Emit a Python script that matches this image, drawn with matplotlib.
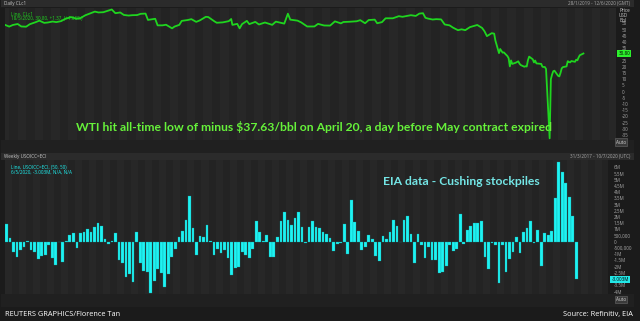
import matplotlib
matplotlib.use('Agg')
import matplotlib.pyplot as plt
import matplotlib.transforms as mtrans
import pandas as pd

# ---------------- data ----------------
wti_dates = [
    '2019-01-25', '2019-01-28', '2019-01-31', '2019-02-04', '2019-02-07', '2019-02-11', '2019-02-14',
    '2019-02-19', '2019-02-22', '2019-02-26', '2019-03-01', '2019-03-05', '2019-03-08', '2019-03-12',
    '2019-03-15', '2019-03-20', '2019-03-25', '2019-03-28', '2019-04-01', '2019-04-05', '2019-04-09',
    '2019-04-12', '2019-04-16', '2019-04-23', '2019-04-26', '2019-04-30', '2019-05-03', '2019-05-07',
    '2019-05-10', '2019-05-14', '2019-05-17', '2019-05-21', '2019-05-23', '2019-05-29', '2019-05-31',
    '2019-06-04', '2019-06-07', '2019-06-12', '2019-06-14', '2019-06-18', '2019-06-20', '2019-06-25',
    '2019-06-28', '2019-07-02', '2019-07-05', '2019-07-10', '2019-07-12', '2019-07-17', '2019-07-19',
    '2019-07-24', '2019-07-29', '2019-07-31', '2019-08-01', '2019-08-05', '2019-08-07', '2019-08-09',
    '2019-08-13', '2019-08-15', '2019-08-20', '2019-08-23', '2019-08-28', '2019-09-03', '2019-09-06',
    '2019-09-13', '2019-09-16', '2019-09-18', '2019-09-24', '2019-09-27', '2019-10-02', '2019-10-08',
    '2019-10-11', '2019-10-16', '2019-10-21', '2019-10-25', '2019-10-30', '2019-11-01', '2019-11-06',
    '2019-11-12', '2019-11-15', '2019-11-19', '2019-11-22', '2019-11-27', '2019-11-29', '2019-12-03',
    '2019-12-06', '2019-12-12', '2019-12-17', '2019-12-20', '2019-12-27', '2019-12-31', '2020-01-03',
    '2020-01-06', '2020-01-08', '2020-01-10', '2020-01-14', '2020-01-17', '2020-01-21', '2020-01-24',
    '2020-01-28', '2020-01-31', '2020-02-04', '2020-02-07', '2020-02-10', '2020-02-14', '2020-02-20',
    '2020-02-24', '2020-02-26', '2020-02-28', '2020-03-03', '2020-03-05', '2020-03-06', '2020-03-09',
    '2020-03-10', '2020-03-12', '2020-03-13', '2020-03-16', '2020-03-17', '2020-03-18', '2020-03-19',
    '2020-03-20', '2020-03-23', '2020-03-24', '2020-03-25', '2020-03-26', '2020-03-27', '2020-03-30',
    '2020-03-31', '2020-04-01', '2020-04-02', '2020-04-03', '2020-04-06', '2020-04-07', '2020-04-08',
    '2020-04-09', '2020-04-13', '2020-04-14', '2020-04-15', '2020-04-16', '2020-04-17', '2020-04-20',
    '2020-04-21', '2020-04-22', '2020-04-23', '2020-04-24', '2020-04-27', '2020-04-28', '2020-04-29',
    '2020-04-30', '2020-05-01', '2020-05-04', '2020-05-05', '2020-05-06', '2020-05-07', '2020-05-08',
    '2020-05-11', '2020-05-12', '2020-05-13', '2020-05-14', '2020-05-15', '2020-05-18']
wti_prices = [
    53.7, 52.5, 53.8, 54.6, 52.6, 52.4, 54.4,
    56.1, 57.3, 55.5, 55.8, 56.6, 56.1, 56.9,
    58.5, 60.2, 58.8, 59.3, 61.6, 63.1, 64.6,
    63.9, 64.1, 66.3, 63.3, 63.9, 61.9, 61.4,
    61.7, 61.8, 62.8, 63.0, 57.9, 58.8, 53.5,
    53.5, 54.0, 51.1, 52.5, 53.9, 57.1, 57.8,
    58.5, 56.3, 57.5, 60.4, 60.2, 56.8, 55.6,
    55.9, 56.9, 58.6, 53.9, 54.7, 51.1, 54.5,
    57.1, 54.5, 56.3, 54.2, 55.8, 53.9, 56.5,
    54.9, 62.9, 58.1, 57.3, 55.9, 52.6, 52.6,
    54.7, 53.4, 53.3, 56.7, 55.1, 56.2, 56.4,
    56.8, 57.7, 55.2, 57.8, 58.1, 55.2, 56.1,
    59.2, 59.2, 60.9, 60.4, 61.7, 61.1, 63.0,
    63.3, 59.6, 59.0, 58.2, 58.5, 58.3, 54.2,
    53.5, 51.6, 49.6, 50.3, 49.6, 52.1, 53.8,
    51.4, 48.7, 44.8, 47.2, 46.8, 41.3, 31.1,
    34.4, 31.5, 31.7, 28.7, 27.0, 20.4, 25.2,
    22.4, 23.4, 24.0, 24.5, 22.6, 21.5, 20.1,
    20.5, 20.3, 25.3, 28.3, 26.1, 23.6, 25.1,
    22.8, 22.4, 20.1, 19.9, 19.9, 18.3, -37.63,
    10.0, 13.8, 16.5, 16.9, 12.8, 12.3, 15.1,
    18.8, 19.8, 20.4, 24.6, 24.0, 23.6, 24.7,
    24.1, 25.8, 25.3, 27.6, 29.4, 30.8]

cushing_first_week = '2017-03-31'
cushing_change_m = [
    1.45, 0.3, -0.78, -1.18, -0.65, -0.38, 0.05, -0.65, -0.78, -1.4, -1.13, -1.05, -0.25, -1.26,
    -1.9, 0.02, -1.62, 0.05, 0.56, 0.7, -0.48, 0.7, 0.8, 1.02, 0.83, 1.18, 1.56, 1.29, 0.2, -0.19,
    0.1, 0.73, -1.45, -1.67, -2.85, -2.58, -3.25, 0.8, -1.72, -2.34, -2.4,
    -4.14, -3.15, -2.15, -2.47, -3.6, -2.6, -1.18, -0.56, 0.38, 0.91, 1.8, 3.68, 1.13, -1.08,
    0.46, 0.43, 1.4, 0.05, -1.08, -0.54, -0.91, -0.65, -1.26, -2.66, -2.12, -2.02, -0.78, -1.08,
    -1.32, -0.56, 1.67, 0.78, 0.1, 0.54, -1.24, -1.24, 0.43, 1.72, 2.42, 1.75, 1.34,
    1.9, 2.42, 1.18, -0.08, 1.18, 1.72, 1.16, 1.08, 0.83, 0.65, 0.35, -0.7, -0.16, -0.1,
    1.45, -0.97, 3.39, 1.64, 0.89, -0.65, -0.43, 0.54, 0.24, -1.1, -1.5, 0.46, 0.24, 0.83,
    1.8, 1.26, 0.03, 1.77, 2.1, 0.65, -1.67, 0.65, -0.24, -1.32, -0.43, -1.45, -1.45,
    -2.47, -2.45, -1.94, -0.24, -0.73, -0.59, 2.26, -0.16, 0.94, 1.29, 1.53, 1.56, 1.72, -1.18,
    -2.2, -0.05, -0.24, -3.28, -0.24, -2.39, -1.4, -0.78, 0.38, -0.91, 0.81, 1.08, 1.69, -0.1,
    0.97, -1.94, 0.75, 0.56, 0.89, 3.52, 6.4, 5.67, 4.76, 3.58, 2.07, -3.003]

wti_ticks = [55, 50, 45, 40, 35, 30, 25, 20, 15, 10, 5, 0, -5, -10, -15, -20, -25, -30, -35]
cush_ticks = [6, 5.5, 5, 4.5, 4, 3.5, 3, 2.5, 2, 1.5, 1, 0.5, 0, -0.5, -1, -1.5, -2, -2.5, -3.5, -4]
cush_tick_labels = ['6M', '5.5M', '5M', '4.5M', '4M', '3.5M', '3M', '2.5M', '2M', '1.5M', '1M',
                    '500,000', '0', '-500,000', '-1M', '-1.5M', '-2M', '-2.5M', '-3.5M', '-4M']

title_top = 'WTI hit all-time low of minus $37.63/bbl on April 20, a day before May contract expired'
title_bottom = 'EIA data - Cushing stockpiles'

# ---------------- styling ----------------
W, H = 640, 321
BG = '#1b1b1b'
PANEL = '#232323'
STRIPE = '#272727'
TXT = '#a8a8a8'
GREEN = '#1fd51f'
CYAN = '#1ef2f2'
SMALL = 3.3

plt.rcParams['font.family'] = ['Open Sans', 'DejaVu Sans']

fig = plt.figure(figsize=(6.4, 3.21), dpi=100)
fig.patch.set_facecolor(BG)


def rect(x0, y0, x1, y1):
    return [x0 / W, 1 - y1 / H, (x1 - x0) / W, (y1 - y0) / H]


def ft(x, y, s, **kw):
    return fig.text(x / W, 1 - y / H, s, **kw)


def bar_px(x0, y0, x1, y1, color):
    fig.patches.append(plt.Rectangle((x0 / W, 1 - y1 / H), (x1 - x0) / W, (y1 - y0) / H,
                                     transform=fig.transFigure, facecolor=color,
                                     edgecolor='none', zorder=0))

# header bars and frames
bar_px(1, 0, 634, 7, '#2b2b2b')
bar_px(1, 153, 634, 160, '#2b2b2b')
bar_px(1, 140, 634, 153, '#202020')
bar_px(1, 294, 634, 307, '#202020')
ft(4, 3.5, 'Daily CLc1', fontsize=SMALL, color='#c8c8c8', va='center', ha='left')
ft(630, 3.5, '28/1/2019 - 12/6/2020 (GMT)', fontsize=SMALL, color=TXT, va='center', ha='right')
ft(4, 156.5, 'Weekly USOICC=ECI', fontsize=SMALL, color='#c8c8c8', va='center', ha='left')
ft(630, 156.5, '31/3/2017 - 10/7/2020 (UTC)', fontsize=SMALL, color=TXT, va='center', ha='right')

# ---------------- top panel ----------------
ax1 = fig.add_axes(rect(5, 8, 616, 140))
ax1.set_facecolor(PANEL)
x0 = pd.Timestamp('2019-01-24 12:00')
x1 = pd.Timestamp('2020-06-14')
ax1.set_xlim(x0, x1)
ax1.set_ylim(-39, 67.5)
weeks = pd.date_range('2019-01-21', '2020-06-15', freq='7D')
for i, w in enumerate(weeks):
    if i % 2 == 0:
        ax1.axvspan(w, w + pd.Timedelta(days=7), color=STRIPE, lw=0, zorder=0)
ax1.plot(pd.to_datetime(wti_dates), wti_prices, color=GREEN, lw=1.3, zorder=3,
         solid_joinstyle='round')
for s in ax1.spines.values():
    s.set_visible(False)
ax1.set_xticks([])
ax1.yaxis.tick_right()
ax1.set_yticks(wti_ticks)
ax1.set_yticklabels([str(t) for t in wti_ticks], fontsize=SMALL, color=TXT)
ax1.tick_params(axis='y', length=0, pad=4)
for lab, t in zip(ax1.get_yticklabels(), wti_ticks):
    if t == 30:
        lab.set_visible(False)
ax1.text(1.004, (30.8 + 39) / 106.5, '30.80', transform=ax1.transAxes, fontsize=SMALL,
         color='black', va='center', ha='left',
         bbox=dict(boxstyle='square,pad=0.25', fc='#2cf02c', ec='none'))
ft(619, 11, 'Price', fontsize=SMALL, color='#d0d0d0', va='center', ha='left')
ft(619, 15.5, 'USD', fontsize=SMALL, color='#d0d0d0', va='center', ha='left')
ft(619, 20, 'Bbl', fontsize=SMALL, color='#d0d0d0', va='center', ha='left')
ft(621, 142, 'Auto', fontsize=SMALL, color='#d0d0d0', va='center', ha='center',
   bbox=dict(boxstyle='square,pad=0.25', fc='#3a3a3a', ec='#6a6a6a', lw=0.4))
ax1.text(0.01, 0.975, 'Line, CLc1', transform=ax1.transAxes, fontsize=SMALL, color=GREEN,
         va='top', ha='left')
ax1.text(0.01, 0.94, '18/5/2020, 30.80, +1.37, (+4.66%)', transform=ax1.transAxes,
         fontsize=SMALL, color=GREEN, va='top', ha='left')
ax1.text(0.505, 0.1, title_top, transform=ax1.transAxes, fontsize=8.7, color='#66f23a',
         ha='center', va='center', family=['Lato', 'DejaVu Sans'], fontweight='bold')

# top x labels
tr1 = mtrans.blended_transform_factory(ax1.transData, fig.transFigure)
for w in pd.date_range('2019-01-28', '2020-06-08', freq='7D'):
    ax1.text(w, 1 - 145.5 / H, w.strftime('%d'), transform=tr1, fontsize=SMALL,
             color=TXT, ha='center', va='center', clip_on=False)
months = pd.date_range('2019-02-01', '2020-07-01', freq='MS')
for m0, m1 in zip(months[:-1], months[1:]):
    lo = max(m0, x0)
    hi = min(m1, x1)
    c = lo + (hi - lo) / 2
    ax1.text(c, 1 - 150.5 / H, m0.strftime('%b %y'), transform=tr1, fontsize=SMALL,
             color='#c0c0c0', ha='center', va='center', clip_on=False)
for m in months:
    if x0 < m < x1:
        ax1.plot([m, m], [1 - 148.5 / H, 1 - 152.5 / H], transform=tr1, color='#555555',
                 lw=0.5, clip_on=False)
ax1.plot([x0, x1], [1 - 148.3 / H, 1 - 148.3 / H], transform=tr1, color='#3c3c3c',
         lw=0.5, clip_on=False)

# ---------------- bottom panel ----------------
ax2 = fig.add_axes(rect(5, 160, 608, 294))
ax2.set_facecolor(PANEL)
bx0 = pd.Timestamp('2017-03-28')
bx1 = pd.Timestamp('2020-07-10')
ax2.set_xlim(bx0, bx1)
ax2.set_ylim(-4.2, 6.6)
bweeks = pd.date_range('2017-03-27', '2020-07-13', freq='14D')
for i, w in enumerate(bweeks):
    if i % 2 == 0:
        ax2.axvspan(w, w + pd.Timedelta(days=14), color=STRIPE, lw=0, zorder=0)
cush_dates = pd.date_range(cushing_first_week, periods=len(cushing_change_m), freq='7D')
ax2.bar(cush_dates, cushing_change_m, width=5.4, color=CYAN, edgecolor='#109a9a',
        linewidth=0.2, zorder=3)
for s in ax2.spines.values():
    s.set_visible(False)
ax2.set_xticks([])
ax2.yaxis.tick_right()
ax2.set_yticks(cush_ticks)
ax2.set_yticklabels(cush_tick_labels, fontsize=SMALL, color=TXT)
ax2.tick_params(axis='y', length=0, pad=4)
ax2.text(1.006, (-3.003 + 4.2) / 10.8, '-3.003M', transform=ax2.transAxes, fontsize=SMALL,
         color='black', va='center', ha='left',
         bbox=dict(boxstyle='square,pad=0.25', fc='#22e8e8', ec='none'))
ft(621, 299.5, 'Auto', fontsize=SMALL, color='#d0d0d0', va='center', ha='center',
   bbox=dict(boxstyle='square,pad=0.25', fc='#3a3a3a', ec='#6a6a6a', lw=0.4))
ax2.text(0.01, 0.965, 'Line, USOICC=ECI, (50, 50)', transform=ax2.transAxes, fontsize=SMALL,
         color=CYAN, va='top', ha='left')
ax2.text(0.01, 0.925, '6/5/2020, -3.003M, N/A, N/A', transform=ax2.transAxes, fontsize=SMALL,
         color=CYAN, va='top', ha='left')
ax2.text(0.757, 0.84, title_bottom, transform=ax2.transAxes, fontsize=8.7,
         color='#74e6e6', ha='center', va='center', family=['Lato', 'DejaVu Sans'],
         fontweight='bold')

tr2 = mtrans.blended_transform_factory(ax2.transData, fig.transFigure)
quarters = pd.date_range('2017-04-01', '2020-10-01', freq='QS')
for q0, q1 in zip(quarters[:-1], quarters[1:]):
    fri = q0 + pd.Timedelta(days=(4 - q0.weekday()) % 7)
    d = fri
    while d < q1 - pd.Timedelta(days=10) and d < bx1 - pd.Timedelta(days=6):
        ax2.text(d, 1 - 298.5 / H, d.strftime('%d'), transform=tr2, fontsize=SMALL,
                 color=TXT, ha='center', va='center', clip_on=False)
        d = d + pd.Timedelta(days=14)
    lo = max(q0, bx0)
    hi = min(q1, bx1)
    c = lo + (hi - lo) / 2
    ax2.text(c, 1 - 303.5 / H, 'Q%d %d' % ((q0.month - 1) // 3 + 1, q0.year), transform=tr2,
             fontsize=SMALL, color='#c0c0c0', ha='center', va='center', clip_on=False)
    if bx0 < q0 < bx1:
        ax2.plot([q0, q0], [1 - 301.5 / H, 1 - 305.5 / H], transform=tr2, color='#555555',
                 lw=0.5, clip_on=False)
ax2.plot([bx0, bx1], [1 - 301.3 / H, 1 - 301.3 / H], transform=tr2, color='#3c3c3c',
         lw=0.5, clip_on=False)

# footer
ft(5, 314.5, 'REUTERS GRAPHICS/Florence Tan', fontsize=5.3, color='white', va='center',
   ha='left', family=['Open Sans', 'DejaVu Sans'])
ft(633, 314.5, 'Source: Refinitiv, EIA', fontsize=5.3, color='white', va='center', ha='right',
   family=['Open Sans', 'DejaVu Sans'])

fig.savefig('out.png', dpi=100, facecolor=BG)
